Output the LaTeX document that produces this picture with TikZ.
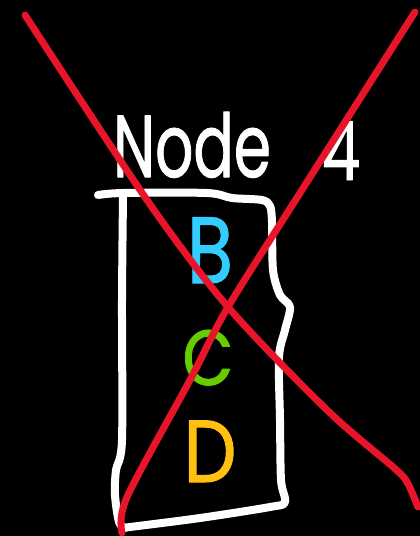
\documentclass[tikz,border=0pt]{standalone}
\usepackage{fontspec}
\setmainfont{Poppins}
\newfontfamily\penfont{Poppins}[FakeBold=1.2]
\definecolor{inkred}{HTML}{E8152A}
\definecolor{inkblue}{HTML}{33CCFF}
\definecolor{inkgreen}{HTML}{66CC00}
\definecolor{inkorange}{HTML}{FFC010}
\begin{document}
\begin{tikzpicture}[x=1pt, y=-1pt, line cap=round, line join=round,
  pen/.style={line width=8pt, white},
  slash/.style={line width=7pt, inkred},
  letter/.style={inner sep=0pt, anchor=base}]
% black board
\fill[black] (0,0) rectangle (420,536);
\useasboundingbox (0,0) rectangle (420,536);

% title
\node[letter, white, xscale=0.68, font=\fontsize{88}{88}\penfont] (title) at (192,177) {Node};
\node[letter, white, xscale=0.75, font=\fontsize{82}{82}\penfont] (num) at (341,180) {4};

% hand-drawn box outline
\draw[pen] plot[smooth, tension=0.5] coordinates {(98,195) (123,193) (207,193) (232,198) (262,200) (270,206) (272,222) (273,270) (280,295) (290,307) (285,330) (279,357) (280,420) (281,480) (285,502) (270,507) (200,518) (130,527) (122,528)};
\draw[pen] plot[smooth, tension=0.5] coordinates {(123,197) (122,300) (122,440) (116,470) (115,495) (119,522) (125,528)};

% contents
\node[letter, inkblue, xscale=0.8, font=\fontsize{94}{94}\penfont] (b) at (210,283) {B};
\node[letter, inkgreen, xscale=0.85, font=\fontsize{78}{78}\penfont] (c) at (208,385) {C};
\node[letter, inkorange, xscale=0.85, font=\fontsize{88}{88}\penfont] (d) at (210,482) {D};

% crossing out
\draw[slash] plot[smooth, tension=0.5] coordinates {(25,15) (147,200) (228,307) (327,410) (393,467) (407,482) (418,507)};
\draw[slash] plot[smooth, tension=0.5] coordinates {(415,12) (300,193) (228,307) (190,380) (127,497) (122,533)};
\end{tikzpicture}
\end{document}
